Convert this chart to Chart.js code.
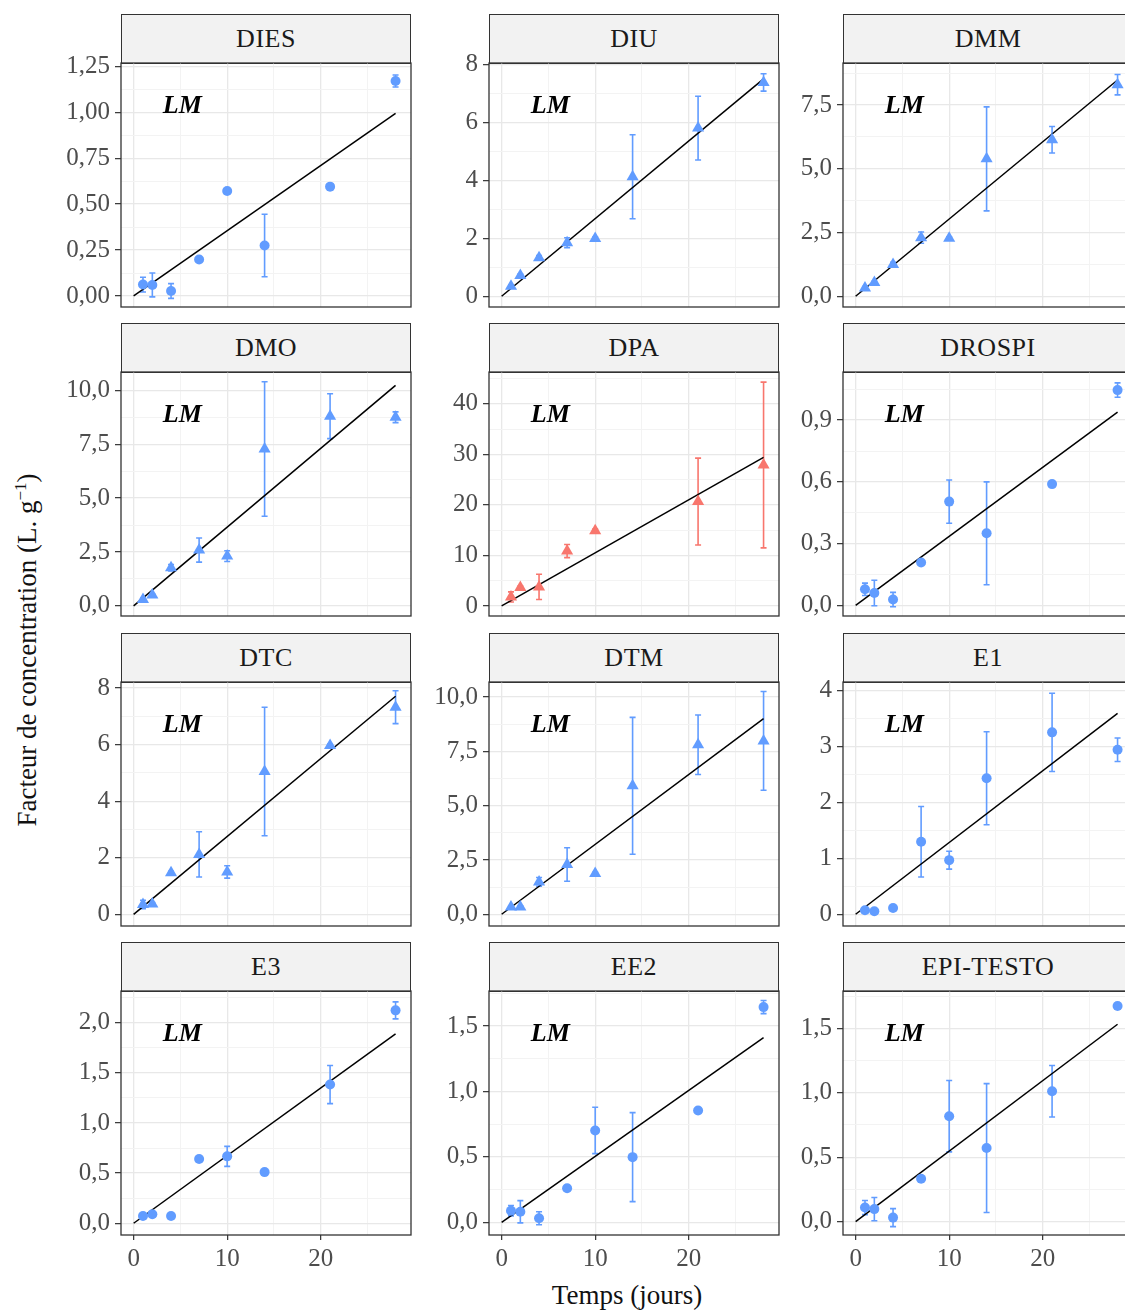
<!DOCTYPE html>
<html>
<head>
<meta charset="utf-8">
<script src="https://cdn.jsdelivr.net/npm/chart.js@4.4.0/dist/chart.umd.min.js"></script>
<style>
  html, body { margin: 0; padding: 0; background: #fff; }
  #wrap { position: relative; width: 1125px; height: 1311px; overflow: hidden; font-family: "Liberation Serif", serif; }
  .strip { position: absolute; box-sizing: border-box; height: 50px; border: 1.3px solid #333; background: #F2F2F2;
           text-align: center; line-height: 47px; font-size: 26px; color: #1A1A1A; letter-spacing: 0.5px; }
  .box { position: absolute; }
  #ytitle { position: absolute; left: 27px; top: 650px; transform: translate(-50%, -50%) rotate(-90deg);
            white-space: nowrap; font-size: 27px; color: #111; }
  #ytitle sup { font-size: 17px; }
  #xtitle { position: absolute; left: 627px; top: 1295px; transform: translate(-50%, -50%);
            white-space: nowrap; font-size: 27px; color: #111; }
</style>
</head>
<body>
<div id="wrap">
  <div id="ytitle">Facteur de concentration (L. g<sup>−1</sup>)</div>
  <div id="xtitle">Temps (jours)</div>
</div>
<script>
// jours d'échantillonnage
const days = [1, 2, 4, 7, 10, 14, 21, 28];

// moyennes et écarts
const diesMean = [0.062, 0.06, 0.027, 0.199, 0.571, 0.275, 0.595, 1.17];
const diesErr  = [0.04, 0.065, 0.04, 0.01, 0.01, 0.17, 0.01, 0.033];
const diuMean  = [0.35, 0.72, 1.33, 1.85, 2.0, 4.13, 5.81, 7.39];
const diuErr   = [0.05, 0.05, 0.08, 0.17, 0.05, 1.45, 1.1, 0.3];
const dmmMean  = [0.33, 0.54, 1.25, 2.3, 2.28, 5.39, 6.14, 8.3];
const dmmErr   = [0.05, 0.05, 0.08, 0.22, 0.05, 2.04, 0.52, 0.4];
const dmoMean  = [0.3, 0.5, 1.77, 2.59, 2.31, 7.28, 8.8, 8.75];
const dmoErr   = [0.05, 0.05, 0.15, 0.56, 0.25, 3.12, 1.04, 0.25];
const dpaMean  = [1.79, 3.65, 3.77, 10.86, 14.9, null, 20.65, 27.9];
const dpaErr   = [1.0, 0.3, 2.5, 1.3, 0.3, null, 8.6, 16.4];
const drospiMean = [0.078, 0.06, 0.028, 0.208, 0.504, 0.35, 0.589, 1.046];
const drospiErr  = [0.03, 0.062, 0.035, 0.01, 0.105, 0.25, 0.01, 0.035];
const dtcMean  = [0.35, 0.37, 1.47, 2.12, 1.5, 5.05, 5.97, 7.32];
const dtcErr   = [0.15, 0.05, 0.05, 0.8, 0.22, 2.27, 0.05, 0.58];
const dtmMean  = [0.34, 0.34, 1.49, 2.29, 1.88, 5.91, 7.8, 7.98];
const dtmErr   = [0.05, 0.05, 0.2, 0.77, 0.05, 3.15, 1.37, 2.27];
const e1Mean   = [0.072, 0.054, 0.113, 1.295, 0.967, 2.43, 3.25, 2.94];
const e1Err    = [0.02, 0.02, 0.02, 0.63, 0.16, 0.83, 0.7, 0.21];
const e3Mean   = [0.073, 0.09, 0.073, 0.64, 0.667, 0.51, 1.383, 2.123];
const e3Err    = [0.02, 0.02, 0.02, 0.02, 0.1, 0.02, 0.19, 0.085];
const ee2Mean  = [0.089, 0.081, 0.031, 0.261, 0.702, 0.498, 0.855, 1.645];
const ee2Err   = [0.04, 0.085, 0.05, 0.02, 0.177, 0.34, 0.02, 0.05];
const epiMean  = [0.109, 0.097, 0.031, 0.333, 0.818, 0.571, 1.012, 1.674];
const epiErr   = [0.055, 0.09, 0.07, 0.02, 0.277, 0.5, 0.2, 0.02];

// panneaux et échelles y (libres)
const names  = ['DIES', 'DIU', 'DMM', 'DMO', 'DPA', 'DROSPI', 'DTC', 'DTM', 'E1', 'E3', 'EE2', 'EPI-TESTO'];
const yMins  = [-0.06, -0.37, -0.42, -0.47, -1.99, -0.052, -0.41, -0.54, -0.21, -0.117, -0.097, -0.104];
const yMaxs  = [1.268, 8.06, 9.15, 10.85, 46.3, 1.134, 8.21, 10.69, 4.15, 2.316, 1.768, 1.79];
const ySteps = [0.25, 2, 2.5, 2.5, 10, 0.3, 2, 2.5, 1, 0.5, 0.5, 0.5];
const yDecimals = [2, 0, 1, 1, 0, 1, 0, 1, 0, 1, 1, 1];
const xTicks = [0, 10, 20];
const xMinorTicks = [5, 15, 25];

const means = [diesMean, diuMean, dmmMean, dmoMean, dpaMean, drospiMean, dtcMean, dtmMean, e1Mean, e3Mean, ee2Mean, epiMean];
const errs  = [diesErr, diuErr, dmmErr, dmoErr, dpaErr, drospiErr, dtcErr, dtmErr, e1Err, e3Err, ee2Err, epiErr];
const circles = ['DIES', 'DROSPI', 'E1', 'E3', 'EE2', 'EPI-TESTO'];

const BLUE = '#619CFF', RED = '#F8766D';
const FONT = '"Liberation Serif", serif';

// mise en page (pixels)
const colLeft = [121, 489, 843];
const rowTop = [63, 372, 682, 991];
const PW = 290, PH = 244, AXW = 80, PAD = 12;

// barres d'erreur, cadre et étiquette LM
const facetPlugin = {
  id: 'facet',
  beforeDatasetsDraw(chart) {
    const ds = chart.data.datasets[0];
    const xs = chart.scales.x, ys = chart.scales.y;
    const ctx = chart.ctx;
    ctx.save();
    ctx.strokeStyle = ds.backgroundColor;
    ctx.lineWidth = 1.6;
    ds.data.forEach((p, i) => {
      const e = ds.errors[i];
      if (p.y == null || e == null) return;
      const x = xs.getPixelForValue(p.x);
      const y1 = ys.getPixelForValue(p.y - e), y2 = ys.getPixelForValue(p.y + e);
      ctx.beginPath();
      ctx.moveTo(x, y1); ctx.lineTo(x, y2);
      ctx.moveTo(x - 3, y1); ctx.lineTo(x + 3, y1);
      ctx.moveTo(x - 3, y2); ctx.lineTo(x + 3, y2);
      ctx.stroke();
    });
    ctx.restore();
  },
  afterDraw(chart) {
    const a = chart.chartArea, ctx = chart.ctx;
    ctx.save();
    ctx.font = 'italic bold 26px ' + FONT;
    ctx.fillStyle = '#000';
    ctx.textAlign = 'center';
    ctx.textBaseline = 'middle';
    ctx.fillText('LM', chart.scales.x.getPixelForValue(5.2), a.top + 43);
    ctx.strokeStyle = '#333';
    ctx.lineWidth = 1.3;
    ctx.strokeRect(a.left, a.top, a.right - a.left, a.bottom - a.top);
    ctx.restore();
  }
};

function buildTicks(min, max, step) {
  const half = step / 2, out = [];
  for (let k = Math.ceil(min / half - 1e-9); k * half <= max + 1e-9; k++) {
    out.push({ value: Math.round(k * half * 1e6) / 1e6, major: k % 2 === 0 });
  }
  return out;
}

const wrap = document.getElementById('wrap');

names.forEach((name, i) => {
  const r = Math.floor(i / 3), c = i % 3;
  const last = r === 3;

  const strip = document.createElement('div');
  strip.className = 'strip';
  strip.style.left = colLeft[c] + 'px';
  strip.style.top = (rowTop[r] - 49) + 'px';
  strip.style.width = PW + 'px';
  strip.textContent = name;
  wrap.appendChild(strip);

  const box = document.createElement('div');
  box.className = 'box';
  box.style.left = (colLeft[c] - AXW) + 'px';
  box.style.top = (rowTop[r] - PAD) + 'px';
  box.style.width = (AXW + PW + PAD) + 'px';
  box.style.height = (PAD + PH + (last ? 45 : PAD)) + 'px';
  const cv = document.createElement('canvas');
  box.appendChild(cv);
  wrap.appendChild(box);

  const m = means[i], e = errs[i];
  const pts = days.map((d, k) => ({ x: d, y: m[k] }));
  // régression linéaire passant par l'origine
  let sxy = 0, sxx = 0;
  days.forEach((d, k) => { if (m[k] != null) { sxy += d * m[k]; sxx += d * d; } });
  const slope = sxy / sxx;
  const color = name === 'DPA' ? RED : BLUE;
  const ticksY = buildTicks(yMins[i], yMaxs[i], ySteps[i]);
  const ticksX = xTicks.map(v => ({ value: v, major: true })).concat(xMinorTicks.map(v => ({ value: v, major: false })))
    .sort((a, b) => a.value - b.value);

  new Chart(cv, {
    type: 'scatter',
    data: {
      datasets: [
        {
          data: pts,
          errors: e,
          backgroundColor: color,
          borderColor: color,
          borderWidth: 0,
          pointStyle: circles.includes(name) ? 'circle' : 'triangle',
          pointRadius: circles.includes(name) ? 5 : 7,
        },
        {
          type: 'line',
          data: [{ x: 0, y: 0 }, { x: 28, y: slope * 28 }],
          borderColor: '#000',
          borderWidth: 1.5,
          pointRadius: 0,
          fill: false,
        }
      ]
    },
    options: {
      responsive: true,
      maintainAspectRatio: false,
      animation: false,
      events: [],
      layout: { padding: { top: PAD, right: PAD, bottom: last ? 5 : PAD, left: 0 } },
      plugins: { legend: { display: false }, tooltip: { enabled: false } },
      scales: {
        x: {
          type: 'linear', min: -1.35, max: 29.65,
          afterBuildTicks: s => { s.ticks = ticksX.map(t => ({ value: t.value })); },
          afterFit: s => { s.height = last ? 40 : 0; s.paddingLeft = 0; s.paddingRight = 0; },
          border: { display: false },
          grid: {
            color: ctx => ticksX[ctx.index] && ticksX[ctx.index].major ? '#E8E8E8' : '#F3F3F3',
            lineWidth: ctx => ticksX[ctx.index] && ticksX[ctx.index].major ? 1.3 : 1,
            drawTicks: last,
            tickLength: 5,
            tickWidth: 1.2,
            tickColor: ctx => ticksX[ctx.index] && ticksX[ctx.index].major ? '#333' : 'rgba(0,0,0,0)',
          },
          ticks: {
            display: last,
            autoSkip: false,
            maxRotation: 0,
            padding: 4,
            color: '#4D4D4D',
            font: { family: FONT, size: 25 },
            callback: (v, k) => ticksX[k].major ? String(v) : '',
          }
        },
        y: {
          type: 'linear', min: yMins[i], max: yMaxs[i],
          afterBuildTicks: s => { s.ticks = ticksY.map(t => ({ value: t.value })); },
          afterFit: s => { s.width = AXW; s.paddingTop = 0; s.paddingBottom = 0; },
          border: { display: false },
          grid: {
            color: ctx => ticksY[ctx.index] && ticksY[ctx.index].major ? '#E8E8E8' : '#F3F3F3',
            lineWidth: ctx => ticksY[ctx.index] && ticksY[ctx.index].major ? 1.3 : 1,
            tickLength: 6,
            tickWidth: 1.2,
            tickColor: ctx => ticksY[ctx.index] && ticksY[ctx.index].major ? '#333' : 'rgba(0,0,0,0)',
          },
          ticks: {
            autoSkip: false,
            padding: 5,
            color: '#4D4D4D',
            font: { family: FONT, size: 25 },
            callback: (v, k) => ticksY[k].major ? v.toFixed(yDecimals[i]).replace('.', ',') : '',
          }
        }
      }
    },
    plugins: [facetPlugin]
  });
});
</script>
</body>
</html>
